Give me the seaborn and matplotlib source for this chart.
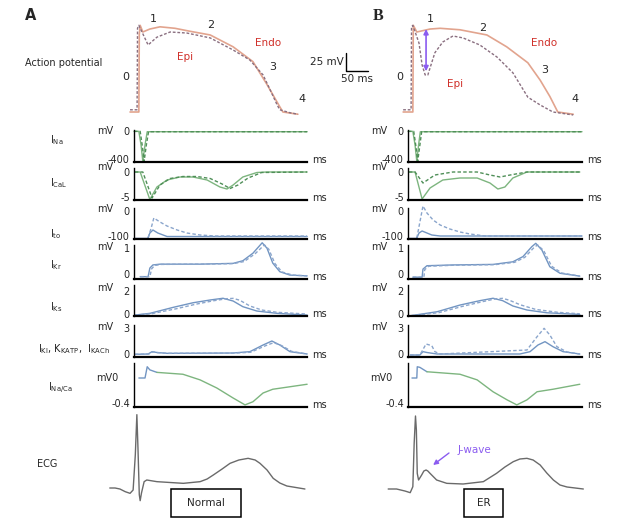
import matplotlib
matplotlib.use("Agg")
import matplotlib.pyplot as plt
from matplotlib.patches import Rectangle
import seaborn as sns

# ---------------- data (time in ms, values in trace units) ----------------
AP_T_ENDO_A = [-9, 11, 12, 14, 20, 36, 59, 93, 127, 173, 225, 270, 302, 331, 338, 372]
AP_V_ENDO_A = [-85, -85, 20, 32, 23, 27, 30, 28, 24, 19, 3, -17, -48, -78, -85, -88]
AP_T_EPI_A = [-9, 7, 8, 11, 32, 52, 82, 120, 173, 225, 263, 293, 309, 325, 331, 354, 372]
AP_V_EPI_A = [-82, -82, 28, 32, 5.5, 16, 23, 21.6, 15, -1.3, -14.8, -35, -55, -75.5, -82, -86, -88]
AP_T_ENDO_B = [-11, 11, 12, 20, 50, 73, 118, 179, 224, 272, 300, 322, 340, 375]
AP_V_ENDO_B = [-85, -85, 32, 23, 27, 28, 26, 19, 3, -18.5, -42, -64, -85, -88]
AP_T_EPI_B = [-11, 7, 8, 11, 25, 32, 39, 45, 61, 79, 102, 125, 163, 202, 238, 272, 300, 329, 375]
AP_V_EPI_B = [-82, -82, 30, 32, 8, -21.5, -35, -35, -5, 9.5, 17.6, 15, 5.5, -10.8, -32, -65, -75.5, -85, -89]

INA_T_S_A = [0, 11, 16, 20, 25, 30, 393]
INA_V_S_A = [0, 0, -200, -440, -200, -5, -5]
INA_T_D_A = [0, 14, 19, 23, 28, 33, 393]
INA_V_D_A = [0, 0, -220, -440, -200, -5, -5]
INA_T_S_B = [0, 11, 16, 20, 24, 28, 395]
INA_V_S_B = [0, 0, -200, -440, -200, -5, -5]
INA_T_D_B = [0, 13, 18, 22, 27, 31, 395]
INA_V_D_B = [0, 0, -220, -440, -200, -5, -5]

ICAL_T_S_A = [2, 14, 36, 52, 75, 104, 134, 166, 195, 211, 225, 247, 279, 302, 393]
ICAL_V_S_A = [0, 0, -5.5, -3.0, -1.6, -1.0, -1.0, -1.6, -3.0, -3.4, -2.6, -1.0, -0.1, 0, 0]
ICAL_T_D_A = [2, 20, 41, 59, 82, 111, 143, 173, 200, 218, 236, 259, 290, 393]
ICAL_V_D_A = [0, 0, -5.2, -2.6, -1.3, -0.9, -0.9, -1.3, -2.4, -3.3, -2.6, -1.2, -0.1, 0]
ICAL_T_S_B = [2, 16, 32, 50, 79, 118, 157, 186, 204, 220, 238, 270, 293, 390]
ICAL_V_S_B = [0, 0, -5.4, -3.2, -1.6, -1.2, -1.2, -2.2, -3.4, -3.0, -1.2, 0, 0, 0]
ICAL_T_D_B = [2, 16, 34, 61, 102, 157, 186, 209, 232, 270, 390]
ICAL_V_D_B = [0, 0, -2.2, -0.6, 0, 0, -0.6, -1.0, -0.6, 0, 0]

ITO_T_BASE_A = [0, 32]
ITO_V_BASE_A = [-107, -107]
ITO_T_S_A = [32, 36, 43, 54, 75, 393]
ITO_V_S_A = [-107, -88, -76, -88, -102, -102]
ITO_T_D_A = [32, 39, 45, 59, 75, 98, 120, 150, 184, 393]
ITO_V_D_A = [-107, -68, -28, -44, -60, -76, -88, -96, -100, -100]
ITO_T_BASE_B = [0, 20]
ITO_V_BASE_B = [-108, -108]
ITO_T_S_B = [20, 25, 32, 43, 54, 73, 395]
ITO_V_S_B = [-108, -88, -80, -88, -96, -100, -100]
ITO_T_D_B = [20, 27, 34, 43, 57, 73, 95, 118, 141, 175, 395]
ITO_V_D_B = [-108, -44, 20, -8, -36, -56, -72, -84, -92, -100, -100]

IKR_T_S_A = [14, 32, 36, 43, 59, 150, 225, 247, 270, 291, 302, 315, 331, 354, 393]
IKR_V_S_A = [-0.10, -0.10, 0.23, 0.35, 0.38, 0.38, 0.41, 0.51, 0.80, 1.20, 0.99, 0.42, 0.09, -0.04, -0.07]
IKR_T_D_A = [14, 36, 40, 47, 62, 150, 225, 250, 275, 296, 306, 320, 336, 360, 393]
IKR_V_D_A = [-0.10, -0.10, 0.20, 0.33, 0.37, 0.38, 0.40, 0.48, 0.78, 1.12, 0.95, 0.40, 0.08, -0.04, -0.07]
IKR_T_S_B = [11, 32, 34, 43, 102, 193, 238, 261, 281, 290, 304, 322, 345, 390]
IKR_V_S_B = [-0.12, -0.12, 0.19, 0.32, 0.35, 0.37, 0.47, 0.67, 1.05, 1.18, 0.92, 0.28, 0.03, -0.08]
IKR_T_D_B = [11, 36, 38, 47, 106, 197, 242, 265, 285, 294, 308, 326, 349, 390]
IKR_V_D_B = [-0.12, -0.12, 0.17, 0.30, 0.34, 0.36, 0.45, 0.64, 1.0, 1.12, 0.9, 0.3, 0.04, -0.08]

IKS_T_S_A = [2, 36, 89, 134, 173, 202, 225, 247, 279, 325, 393]
IKS_V_S_A = [-0.09, 0.06, 0.58, 0.98, 1.22, 1.37, 1.13, 0.64, 0.26, 0.06, -0.09]
IKS_T_D_A = [2, 40, 95, 140, 180, 210, 225, 240, 263, 290, 325, 393]
IKS_V_D_A = [-0.09, 0.03, 0.45, 0.85, 1.15, 1.33, 1.36, 1.2, 0.7, 0.35, 0.15, 0.0]
IKS_T_S_B = [5, 66, 118, 163, 193, 215, 238, 270, 315, 390]
IKS_V_S_B = [-0.15, 0.2, 0.78, 1.16, 1.37, 1.16, 0.7, 0.35, 0.11, -0.03]
IKS_T_D_B = [5, 70, 125, 170, 200, 215, 230, 255, 290, 340, 390]
IKS_V_D_B = [-0.15, 0.12, 0.68, 1.08, 1.33, 1.36, 1.2, 0.8, 0.4, 0.15, 0.02]

IK1_T_S_A = [2, 32, 41, 52, 75, 225, 263, 293, 313, 331, 354, 393]
IK1_V_S_A = [-0.1, -0.06, 0.22, 0.12, 0.02, 0.06, 0.22, 1.02, 1.5, 1.02, 0.22, -0.06]
IK1_T_D_A = [2, 34, 43, 54, 77, 225, 265, 297, 317, 335, 358, 393]
IK1_V_D_A = [-0.1, -0.06, 0.2, 0.1, 0.02, 0.04, 0.15, 0.9, 1.3, 0.95, 0.25, -0.06]
IK1_T_S_B = [5, 27, 34, 43, 66, 254, 277, 295, 311, 329, 352, 390]
IK1_V_S_B = [-0.18, -0.18, 0.22, 0.12, -0.06, -0.06, 0.22, 1.02, 1.42, 0.82, 0.22, -0.06]
IK1_T_D_B = [5, 27, 41, 54, 61, 73, 270, 293, 309, 322, 338, 361, 390]
IK1_V_D_B = [-0.18, -0.18, 1.14, 0.94, 0.22, -0.06, 0.42, 2.02, 3.02, 2.22, 0.82, 0.18, -0.06]

NACA_T_EARLY_A = [11, 25, 30, 36, 52]
NACA_V_EARLY_A = [0, 0, 0.18, 0.13, 0.09]
NACA_T_A = [52, 111, 150, 188, 225, 252, 270, 293, 315, 354, 393]
NACA_V_A = [0.09, 0.06, -0.03, -0.16, -0.32, -0.43, -0.38, -0.24, -0.18, -0.14, -0.10]
NACA_T_EARLY_B = [9, 20, 21, 27, 43]
NACA_V_EARLY_B = [0, 0, 0.18, 0.17, 0.10]
NACA_T_B = [43, 118, 157, 193, 225, 247, 270, 293, 329, 390]
NACA_V_B = [0.10, 0.06, -0.03, -0.22, -0.35, -0.43, -0.35, -0.22, -0.18, -0.10]

ECG_T_A = [-55, -43, -32, -20, -9, -2, 3, 6.5, 9, 12, 14, 17, 23, 29, 52, 112, 150, 166, 180, 200,
           218, 238, 259, 275, 286, 302, 316, 331, 347, 388]
ECG_V_A = [0, 0, -0.015, -0.055, -0.08, -0.03, 0.5, 1.1, 0.6, -0.1, -0.19, -0.075, 0.095, 0.12, 0.095,
           0.07, 0.095, 0.135, 0.195, 0.285, 0.37, 0.42, 0.445, 0.42, 0.37, 0.27, 0.145, 0.075, 0.03, -0.015]
ECG_T_B = [-45, -26, -7, 5, 11, 14, 17, 19, 21, 24, 31, 36, 41, 45, 50, 65, 88, 125, 171, 201, 220,
           239, 254, 270, 284, 300, 315, 330, 345, 361, 398]
ECG_V_B = [-0.015, -0.015, -0.045, -0.07, 0.02, 0.67, 1.08, 0.87, 0.22, 0.12, 0.195, 0.255, 0.27, 0.255,
           0.22, 0.12, 0.07, 0.06, 0.095, 0.22, 0.315, 0.395, 0.435, 0.445, 0.42, 0.345, 0.225, 0.12,
           0.045, 0.015, -0.015]

ROW_LABELS = [r"I$_{Na}$", r"I$_{CaL}$", r"I$_{to}$", r"I$_{Kr}$", r"I$_{Ks}$",
              r"I$_{KI}$, K$_{KATP}$,  I$_{KACh}$", r"I$_{Na/Ca}$"]
TICK_TOP = ["0", "0", "0", "1", "2", "3", None]
TICK_BOT = ["-400", "-5", "-100", "0", "0", "0", "-0.4"]
TICK_TOP_VAL = [0, 0, 0, 1, 2, 3, None]
TICK_BOT_VAL = [-400, -5, -100, 0, 0, 0, -0.4]

# ---------------- style ----------------
sns.set_style("white")
plt.rcParams["font.family"] = ["DejaVu Sans"]
plt.rcParams["mathtext.default"] = "regular"

W, H = 640, 524
MSPX = 2.27
fig = plt.figure(figsize=(W / 100, H / 100), dpi=100)


def rect(l, t, r, b):
    return [l / W, 1 - b / H, (r - l) / W, (b - t) / H]


def line(ax, t, v, color, ls="-", lw=1.0, z=2):
    sns.lineplot(x=t, y=v, ax=ax, color=color, linestyle=ls, linewidth=lw,
                 estimator=None, sort=False, legend=False, zorder=z)


ENDO_C = "#e2a48e"
EPI_C = "#8a6f80"
GREEN_S = "#7db57f"
GREEN_D = "#4f8f58"
BLUE_S = "#7295c2"
BLUE_D = "#8aa5cc"
NAVY = "#2b4c86"
PURPLE = "#8b5cf0"
RED = "#d0302a"
DASH = (0, (2.5, 1.6))

ORIG = {"A": 134, "B": 408}
RIGHT = {"A": 307, "B": 582}

# ---------------- action potentials ----------------
ap_data = {
    "A": (AP_T_ENDO_A, AP_V_ENDO_A, AP_T_EPI_A, AP_V_EPI_A),
    "B": (AP_T_ENDO_B, AP_V_ENDO_B, AP_T_EPI_B, AP_V_EPI_B),
}
ap_axes = {}
for col in "AB":
    o = ORIG[col]
    ax = fig.add_axes(rect(o - 20, 18, o + 180, 120))
    te, ve, tp, vp = ap_data[col]
    line(ax, te, ve, ENDO_C, "-", 1.2)
    line(ax, tp, vp, EPI_C, (0, (2, 1.3)), 1.0, 3)
    ax.set_xlim(-20 * MSPX, 180 * MSPX)
    ax.set_ylim(-95.8, 41.9)
    ax.axis("off")
    ap_axes[col] = ax

axA = ap_axes["A"]
for s, x, y in [("1", 45, 40.6), ("2", 173, 32.5), ("3", 315, -24), ("0", -18, -38), ("4", 381, -67.5)]:
    axA.text(x, y, s, fontsize=8, ha="center", va="center")
axA.text(304, 8, "Endo", color=RED, fontsize=7.5, ha="center", va="center")
axA.text(116, -11, "Epi", color=RED, fontsize=7.5, ha="center", va="center")
# scale bar
axA.plot([481, 481, 531], [-5, -30, -30], color="black", lw=1.0, clip_on=False)
axA.text(477, -17, "25 mV", fontsize=7.5, ha="right", va="center")
axA.text(506, -41, "50 ms", fontsize=7.5, ha="center", va="center")

axB = ap_axes["B"]
for s, x, y in [("1", 50, 40.6), ("2", 170, 28.4), ("3", 311, -28), ("0", -18, -38), ("4", 379, -67.5)]:
    axB.text(x, y, s, fontsize=8, ha="center", va="center")
axB.text(309, 8, "Endo", color=RED, fontsize=7.5, ha="center", va="center")
axB.text(107, -47, "Epi", color=RED, fontsize=7.5, ha="center", va="center")
axB.annotate("", xy=(41, -30), xytext=(41, 27),
             arrowprops=dict(arrowstyle="<|-|>", color=PURPLE, lw=1.2, mutation_scale=7,
                             shrinkA=0, shrinkB=0))

fig.text(31 / W, 1 - 16 / H, "A", fontsize=10.5, fontweight="bold", ha="center", va="center")
fig.text(378 / W, 1 - 16 / H, "B", fontsize=11.5, fontweight="bold", ha="center", va="center",
         family="Liberation Serif")
fig.text(25 / W, 1 - 63 / H, "Action potential", fontsize=7, ha="left", va="center")

# ---------------- currents ----------------
ROWS = [  # top px, bottom px, ylim, mV label y px, label y px, label x px
    (130, 162, (-450, 20), 131, 140, 50),
    (168, 200, (-5.6, 0.8), 167, 183, 50),
    (208, 239, (-112, 12), 209, 234, 50),
    (245, 279, (-0.19, 1.115), 247, 265, 50),
    (285, 316, (-0.17, 2.52), 288, 307, 50),
    (325, 357, (-0.42, 3.42), 327, 349, 38),
    (363, 407, (-0.464, 0.24), 378, 388, 48),
]

traces = {
    ("A", 0): [(INA_T_S_A, INA_V_S_A, GREEN_S, "-"), (INA_T_D_A, INA_V_D_A, GREEN_D, DASH)],
    ("B", 0): [(INA_T_S_B, INA_V_S_B, GREEN_S, "-"), (INA_T_D_B, INA_V_D_B, GREEN_D, DASH)],
    ("A", 1): [(ICAL_T_S_A, ICAL_V_S_A, GREEN_S, "-"), (ICAL_T_D_A, ICAL_V_D_A, GREEN_D, DASH)],
    ("B", 1): [(ICAL_T_S_B, ICAL_V_S_B, GREEN_S, "-"), (ICAL_T_D_B, ICAL_V_D_B, GREEN_D, DASH)],
    ("A", 2): [(ITO_T_S_A, ITO_V_S_A, BLUE_S, "-"), (ITO_T_D_A, ITO_V_D_A, BLUE_D, DASH),
               (ITO_T_BASE_A, ITO_V_BASE_A, NAVY, "-")],
    ("B", 2): [(ITO_T_S_B, ITO_V_S_B, BLUE_S, "-"), (ITO_T_D_B, ITO_V_D_B, BLUE_D, DASH),
               (ITO_T_BASE_B, ITO_V_BASE_B, NAVY, "-")],
    ("A", 3): [(IKR_T_S_A, IKR_V_S_A, BLUE_S, "-"), (IKR_T_D_A, IKR_V_D_A, BLUE_D, DASH)],
    ("B", 3): [(IKR_T_S_B, IKR_V_S_B, BLUE_S, "-"), (IKR_T_D_B, IKR_V_D_B, BLUE_D, DASH)],
    ("A", 4): [(IKS_T_S_A, IKS_V_S_A, BLUE_S, "-"), (IKS_T_D_A, IKS_V_D_A, BLUE_D, DASH)],
    ("B", 4): [(IKS_T_S_B, IKS_V_S_B, BLUE_S, "-"), (IKS_T_D_B, IKS_V_D_B, BLUE_D, DASH)],
    ("A", 5): [(IK1_T_S_A, IK1_V_S_A, BLUE_S, "-"), (IK1_T_D_A, IK1_V_D_A, BLUE_D, DASH)],
    ("B", 5): [(IK1_T_S_B, IK1_V_S_B, BLUE_S, "-"), (IK1_T_D_B, IK1_V_D_B, BLUE_D, DASH)],
    ("A", 6): [(NACA_T_EARLY_A, NACA_V_EARLY_A, BLUE_S, "-"), (NACA_T_A, NACA_V_A, GREEN_S, "-")],
    ("B", 6): [(NACA_T_EARLY_B, NACA_V_EARLY_B, BLUE_S, "-"), (NACA_T_B, NACA_V_B, GREEN_S, "-")],
}

for col in "AB":
    o, r = ORIG[col], RIGHT[col]
    for i, (top, bot, ylim, mvy, ly, lx) in enumerate(ROWS):
        ax = fig.add_axes(rect(o, top, r, bot))
        for t, v, c, ls in traces[(col, i)]:
            line(ax, t, v, c, ls, 1.0)
        ax.set_xlim(0, (r - o) * MSPX)
        ax.set_ylim(*ylim)
        for sp in ("top", "right"):
            ax.spines[sp].set_visible(False)
        ax.spines["left"].set_linewidth(1.0)
        ax.spines["bottom"].set_linewidth(1.6)
        ax.spines["left"].set_color("black")
        ax.spines["bottom"].set_color("black")
        for child in ax.get_lines():
            child.set_clip_on(False)
        ax.set_xticks([])
        ticks, labels = [], []
        if TICK_TOP_VAL[i] is not None:
            ticks.append(TICK_TOP_VAL[i]); labels.append(TICK_TOP[i])
        ticks.append(TICK_BOT_VAL[i]); labels.append(TICK_BOT[i])
        ax.set_yticks(ticks)
        ax.set_yticklabels(labels, fontsize=7)
        ax.tick_params(axis="y", length=0, pad=3)
        ax.set_xlabel(""); ax.set_ylabel("")
        if i < 6:
            fig.text((o - 21) / W, 1 - mvy / H, "mV", fontsize=7, ha="right", va="center")
        else:
            fig.text((o - 16) / W, 1 - mvy / H, "mV0", fontsize=7, ha="right", va="center")
        fig.text((r + 5) / W, 1 - (bot - 2) / H, "ms", fontsize=7, ha="left", va="center")
        if col == "A":
            fig.text(lx / W, 1 - ly / H, ROW_LABELS[i], fontsize=7, ha="left", va="center")

# ---------------- ECG ----------------
ecg = {"A": (ECG_T_A, ECG_V_A), "B": (ECG_T_B, ECG_V_B)}
for col in "AB":
    o = ORIG[col]
    ax = fig.add_axes(rect(o - 30, 410, o + 180, 505))
    t, v = ecg[col]
    line(ax, t, v, "#6a6a6a", "-", 1.0)
    ax.set_xlim(-30 * MSPX, 180 * MSPX)
    ax.set_ylim(-0.255, 1.17)
    ax.axis("off")
    if col == "B":
        ax.text(113, 0.57, "J-wave", color=PURPLE, fontsize=7.5, ha="left", va="center")
        ax.annotate("", xy=(57, 0.345), xytext=(93, 0.525),
                    arrowprops=dict(arrowstyle="-|>", color=PURPLE, lw=1.0, mutation_scale=7,
                                    shrinkA=0, shrinkB=0))

fig.text(37 / W, 1 - 464 / H, "ECG", fontsize=7, ha="left", va="center")

for (l, t, r, b, s) in [(171, 489, 241, 517, "Normal"), (464, 489, 503, 517, "ER")]:
    fig.add_artist(Rectangle((l / W, 1 - b / H), (r - l) / W, (b - t) / H, transform=fig.transFigure,
                             fill=False, edgecolor="black", lw=1.1))
    fig.text((l + r) / 2 / W, 1 - (t + b) / 2 / H, s, fontsize=7.5, ha="center", va="center")

fig.savefig("out.png", dpi=100)
